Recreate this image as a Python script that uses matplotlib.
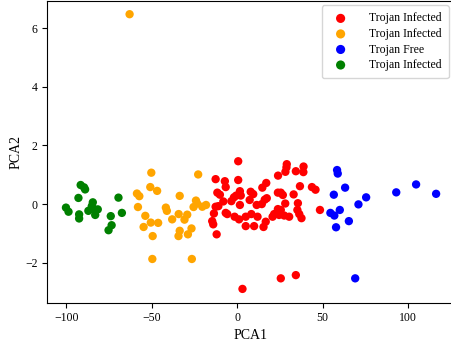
import numpy as np
import matplotlib
matplotlib.use("Agg")
import matplotlib.pyplot as plt

plt.rcParams["font.family"] = ["Liberation Serif", "DejaVu Serif"]

############################
# DATA
############################

red_x = [0.6, -12.6, -7.2, -6.7, 0.6, -11.6, -10.1, -8.1, -1.9, -0.6,
         1.6, 2.1, -3.4, 1.6, 7.9, 9.4, 7.3, 14.7, 17.0, 16.1,
         17.3, 14.4, 11.4, -12.6, -11.0, -13.6, -14.6, -14.0, -6.7, -5.8,
         -1.5, 1.1, 5.0, 5.0, 8.3, 11.9, 9.9, 15.4, 16.7, -12.0,
         23.9, 29.0, 28.8, 28.2, 34.3, 38.8, 38.7, 36.7, 33.0, 23.8,
         25.5, 26.7, 28.1, 23.8, 25.5, 20.7, 21.6, 24.5, 27.5, 30.4,
         35.5, 35.2, 36.3, 37.6, 43.7, 45.8, 48.4, 3.1, 25.5, 34.3]
red_y = [1.46, 0.85, 0.78, 0.58, 0.82, 0.39, 0.32, 0.09, 0.23, 0.29,
         0.44, 0.29, 0.10, -0.03, 0.42, 0.34, 0.14, 0.56, 0.72, 0.15,
         0.20, 0.00, -0.03, -0.09, -0.07, -0.32, -0.58, -0.69, -0.30, -0.34,
         -0.43, -0.52, -0.43, -0.75, -0.34, -0.43, -0.75, -0.78, -0.60, -1.03,
         0.97, 1.36, 1.25, 1.10, 1.12, 1.28, 1.09, 0.61, 0.33, 0.39,
         0.39, 0.31, 0.02, -0.17, -0.20, -0.43, -0.34, -0.37, -0.39, -0.43,
         0.03, -0.20, -0.34, -0.48, 0.58, 0.49, -0.20, -2.89, -2.53, -2.42]

orange_x = [-62.9, -50.2, -22.8, -58.6, -57.2, -50.8, -46.8, -58.0, -33.6, -41.7,
            -41.1, -24.1, -23.4, -25.5, -20.4, -18.2, -53.7, -54.7, -50.5, -46.2,
            -38.0, -34.2, -29.2, -30.8, -49.4, -33.6, -34.3, -26.7, -28.8, -49.6,
            -26.5]
orange_y = [6.47, 1.07, 1.01, 0.36, 0.27, 0.58, 0.45, -0.10, 0.28, -0.12,
            -0.23, 0.12, 0.02, -0.10, -0.09, -0.03, -0.40, -0.78, -0.63, -0.64,
            -0.52, -0.34, -0.36, -0.53, -1.09, -0.91, -1.09, -0.83, -1.03, -1.87,
            -1.87]

blue_x = [58.4, 58.8, 63.1, 56.5, 75.4, 70.9, 54.5, 56.8, 60.0, 65.3,
          57.8, 93.0, 104.6, 116.3, 69.0]
blue_y = [1.16, 1.04, 0.56, 0.32, 0.23, -0.01, -0.30, -0.39, -0.20, -0.58,
          -0.79, 0.40, 0.67, 0.35, -2.53]

green_x = [-100.1, -98.6, -91.5, -89.5, -88.9, -92.8, -84.4, -85.0, -87.0, -83.5,
           -81.5, -83.0, -92.4, -92.4, -69.4, -67.4, -73.9, -73.4, -75.2]
green_y = [-0.12, -0.26, 0.65, 0.57, 0.50, 0.21, 0.06, -0.07, -0.23, -0.18,
           -0.18, -0.37, -0.35, -0.49, 0.22, -0.30, -0.41, -0.72, -0.89]

series = [
    (red_x, red_y, "red", "Trojan Infected"),
    (orange_x, orange_y, "orange", "Trojan Infected"),
    (blue_x, blue_y, "blue", "Trojan Free"),
    (green_x, green_y, "green", "Trojan Infected"),
]

############################
# PLOT
############################

fig = plt.figure(figsize=(4.51, 3.45), dpi=100)
ax = fig.add_axes([0.1049, 0.1226, 0.90, 0.8745])

for xs, ys, col, lab in series:
    ax.scatter(xs, ys, color=col, s=36, label=lab, edgecolors="none")

ax.set_xlim(-111.0, 126.3)
ax.set_ylim(-3.36, 6.92)
ax.set_xticks([-100, -50, 0, 50, 100])
ax.set_yticks([-2, 0, 2, 4, 6])
ax.tick_params(labelsize=8.5, length=3.5, width=0.8)
ax.set_xlabel("PCA1", fontsize=10, labelpad=3)
ax.set_ylabel("PCA2", fontsize=10, labelpad=2)

ax.legend(loc="upper right", bbox_to_anchor=(1.003, 1.005), fontsize=8.5,
          frameon=True, scatterpoints=1, markerscale=1.1,
          handletextpad=1.4, borderpad=0.6, labelspacing=0.3)

fig.savefig("out.png", dpi=100)
